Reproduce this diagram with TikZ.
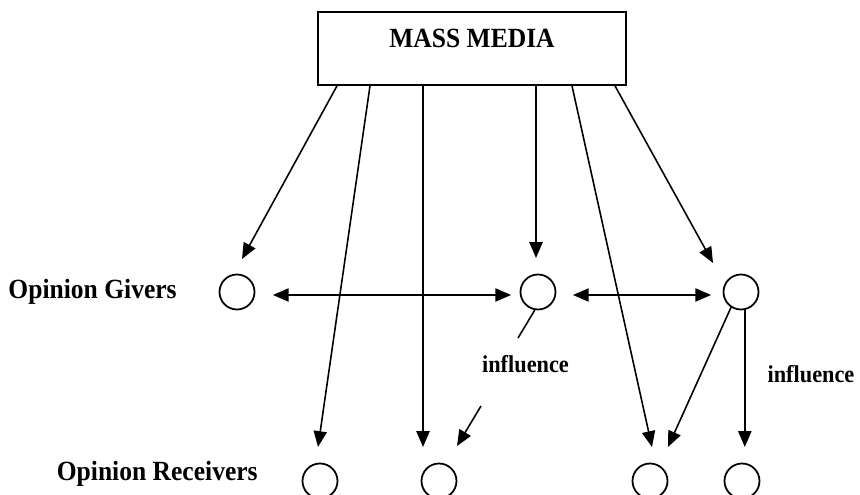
\documentclass[tikz,border=0pt]{standalone}
\usepackage{fontspec}
\setmainfont{Liberation Serif}[FakeStretch=0.92]
\usetikzlibrary{arrows.meta}

\begin{document}
\begin{tikzpicture}[
        scale=1,
        person/.style={circle, draw=black, line width=1pt, minimum size=0.7cm, inner sep=0pt},
        media_box/.style={draw=black, line width=1pt, inner sep=0pt, minimum width=6.16cm,
                          text height=0.72cm, text depth=0.74cm, font=\fontsize{15.8}{18}\selectfont\bfseries},
        row_label/.style={inner sep=0pt, font=\fontsize{15.8}{18}\selectfont\bfseries},
        infl_label/.style={inner sep=0pt, font=\fontsize{13.8}{16}\selectfont\bfseries},
        arrow/.style={line width=0.9pt, -{Triangle[length=9pt, width=7.5pt]}},
        both/.style={line width=0.9pt, {Triangle[length=9pt, width=7.5pt]}-{Triangle[length=9pt, width=7.5pt]}},
        link/.style={line width=0.9pt}
    ]

        \useasboundingbox (0, 0) rectangle (17.2, 9.9);

        \node[media_box, anchor=base] (media) at (9.44, 8.94) {MASS MEDIA};

        % opinion givers
        \node[person] (g1) at (4.74, 4.06) {};
        \node[person] (g2) at (10.76, 4.06) {};
        \node[person] (g3) at (14.82, 4.06) {};

        % opinion receivers
        \node[person] (r1) at (6.40, 0.28) {};
        \node[person] (r2) at (8.78, 0.28) {};
        \node[person] (r3) at (13.00, 0.28) {};
        \node[person] (r4) at (14.84, 0.28) {};

        \node[row_label, anchor=base east] (givers) at (3.54, 3.92) {Opinion Givers};
        \node[row_label, anchor=base east] (receivers) at (5.16, 0.28) {Opinion Receivers};
        \node[infl_label, anchor=base] (infl1) at (10.51, 2.45) {influence};
        \node[infl_label, anchor=base] (infl2) at (16.22, 2.24) {influence};

        % start points on the box
        \coordinate (m1) at ([xshift=-2.70cm]media.south);
        \coordinate (m2) at ([xshift=-2.04cm]media.south);
        \coordinate (m3) at ([xshift=-0.98cm]media.south);
        \coordinate (m4) at ([xshift=1.28cm]media.south);
        \coordinate (m5) at ([xshift=2.00cm]media.south);
        \coordinate (m6) at ([xshift=2.86cm]media.south);

        % arrow tips
        \coordinate (t1) at (4.84, 4.72);
        \coordinate (t2) at (10.72, 4.74);
        \coordinate (t3) at (14.26, 4.64);
        \coordinate (t4) at (6.36, 0.96);
        \coordinate (t5) at (8.46, 0.96);
        \coordinate (t6) at (9.14, 0.98);
        \coordinate (t7) at (13.04, 0.96);
        \coordinate (t8) at (13.36, 0.96);
        \coordinate (t9) at (14.92, 0.96);

        \draw[arrow] (m1) -- (t1);
        \draw[arrow] (m2) -- (t4);
        \draw[arrow] (m3) -- (t5);
        \draw[arrow] (m4) -- (t2);
        \draw[arrow] (m5) -- (t7);
        \draw[arrow] (m6) -- (t3);

        \draw[both] ([xshift=0.35cm, yshift=-0.06cm]g1.east) -- ([xshift=-0.17cm, yshift=-0.06cm]g2.west);
        \draw[both] ([xshift=0.33cm, yshift=-0.06cm]g2.east) -- ([xshift=-0.23cm, yshift=-0.06cm]g3.west);

        % influence
        \coordinate (i1) at (10.36, 3.14);
        \coordinate (i2) at (9.62, 1.78);
        \draw[link] (g2.-100) -- (i1);
        \draw[arrow] (i2) -- (t6);
        \draw[arrow] (g3.237) -- (t8);
        \draw[arrow] (g3.-78) -- (g3.-78 |- t9);
    \end{tikzpicture}
\end{document}
